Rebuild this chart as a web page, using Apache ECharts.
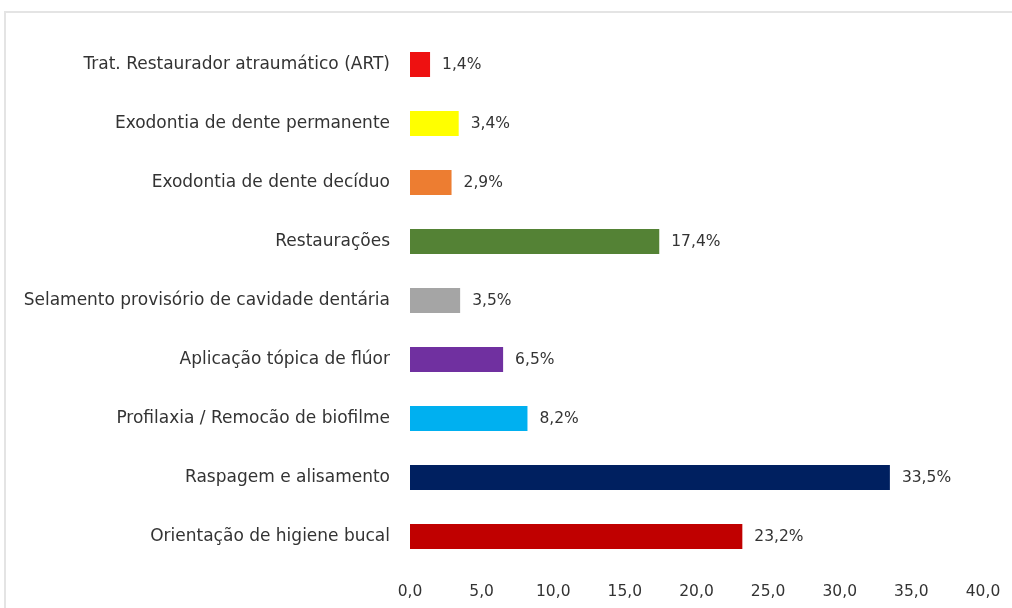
<!DOCTYPE html>
<html>
<head>
<meta charset="utf-8">
<script src="https://cdn.jsdelivr.net/npm/echarts@6/dist/echarts.min.js"></script>
<style>
  html, body { margin: 0; padding: 0; background: #fff; }
  .frame {
    position: absolute;
    left: 4px;
    top: 11px;
    width: 1020px;
    height: 610px;
    border-left: 2px solid #e4e4e4;
    border-top: 2px solid #e4e4e4;
  }
  #chart { position: absolute; left: 0; top: 0; width: 1012px; height: 608px; }
</style>
</head>
<body>
<div class="frame"></div>
<div id="chart"></div>
<script>
// categories listed bottom to top (ECharts category axis order)
const categories = [
  'Orientação de higiene bucal',
  'Raspagem e alisamento',
  'Profilaxia / Remocão de biofilme',
  'Aplicação tópica de flúor',
  'Selamento provisório de cavidade dentária',
  'Restaurações',
  'Exodontia de dente decíduo',
  'Exodontia de dente permanente',
  'Trat. Restaurador atraumático (ART)',
]
const values = [23.2, 33.5, 8.2, 6.5, 3.5, 17.4, 2.9, 3.4, 1.4]
const barColors = [
  '#c00000', '#002060', '#00b0f0', '#7030a0', '#a5a5a5',
  '#548235', '#ed7d31', '#ffff00', '#ee1111',
]

const fmt = (v) => v.toFixed(1).replace('.', ',')

const chart = echarts.init(document.getElementById('chart'))
chart.setOption({
  animation: false,
  textStyle: { fontFamily: 'DejaVu Sans' },
  grid: { left: 410, right: 29, top: 35, bottom: 42, containLabel: false },
  xAxis: {
    type: 'value',
    min: 0,
    max: 40,
    interval: 5,
    axisLine: { show: false },
    axisTick: { show: false },
    splitLine: { show: false },
    axisLabel: { color: '#333', fontSize: 15.5, margin: 18, formatter: fmt },
  },
  yAxis: {
    type: 'category',
    data: categories,
    axisLine: { show: false },
    axisTick: { show: false },
    axisLabel: { color: '#333', fontSize: 17, margin: 20 },
  },
  series: [
    {
      type: 'bar',
      barWidth: 25,
      data: values.map((v, i) => ({ value: v, itemStyle: { color: barColors[i] } })),
      label: {
        show: true,
        position: 'right',
        distance: 12,
        color: '#333',
        fontSize: 15.5,
        formatter: (p) => fmt(p.value) + '%',
      },
    },
  ],
})
</script>
</body>
</html>
